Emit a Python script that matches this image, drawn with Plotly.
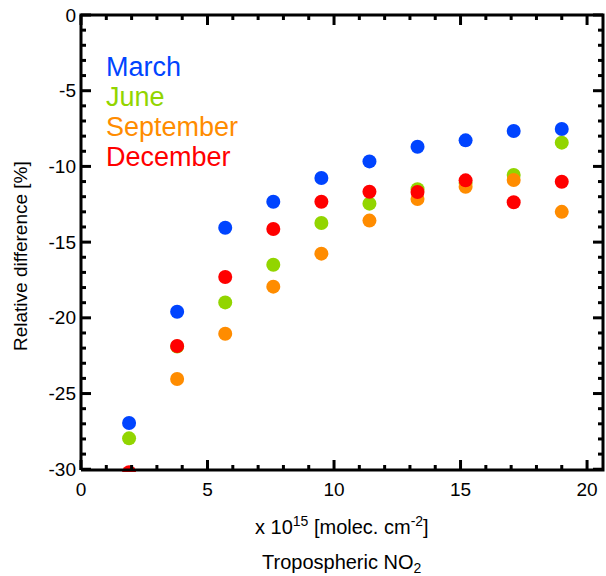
import plotly.graph_objects as go

# Tropospheric NO2 column bins (x 10^15 molec. cm^-2)
no2_bins = [1.9, 3.8, 5.7, 7.6, 9.5, 11.4, 13.3, 15.2, 17.1, 19.0]

# Relative difference [%] per month
march = [-26.95, -19.6, -14.05, -12.33, -10.77, -9.67, -8.7, -8.28, -7.66, -7.53]
june = [-27.96, -21.9, -18.98, -16.49, -13.74, -12.46, -11.5, -11.1, -10.57, -8.43]
september = [-33.0, -24.04, -21.05, -17.94, -15.76, -13.58, -12.15, -11.34, -10.9, -13.0]
december = [-30.2, -21.86, -17.3, -14.13, -12.33, -11.67, -11.69, -10.92, -12.37, -11.01]

series = [
    ("March", march, "#0044ff"),
    ("June", june, "#92d500"),
    ("September", september, "#ff8c00"),
    ("December", december, "#ff0000"),
]

x_ticks = [0, 5, 10, 15, 20]
y_ticks = [0, -5, -10, -15, -20, -25, -30]
x_minor = [v for v in range(0, 21) if v % 5]
y_minor = [-v for v in range(0, 31) if v % 5]

FONT = "Liberation Sans, Arial, Helvetica, sans-serif"

# Frame extent in data units and the pixel size of the box it spans
X0, X1 = 0.0, 20.63
Y0, Y1 = -30.05, 0.0
BOX_W, BOX_H = 522, 455
PX_X = (X1 - X0) / BOX_W
PX_Y = (Y1 - Y0) / BOX_H
PAD = 2  # px of headroom so the frame strokes are not clipped

W, H = 606, 576
M_L, M_R, M_T, M_B = 81 - PAD, 3 - PAD, 15 - PAD, 106 - PAD
PLOT_W, PLOT_H = W - M_L - M_R, H - M_T - M_B


def px(x):
    return (x - M_L) / PLOT_W


def py(y):
    return (H - M_B - y) / PLOT_H


fig = go.Figure()
for name, vals, color in series:
    fig.add_trace(go.Scatter(
        x=no2_bins, y=vals, mode="markers", name=name,
        marker=dict(size=14, color=color, line=dict(width=0)),
        hoverinfo="x+y+name",
    ))

# Inward tick marks on all four sides
tx, ty = [], []
for vals, length in ((x_ticks, 10), (x_minor, 5)):
    for v in vals:
        tx += [v, v, None, v, v, None]
        ty += [Y0, Y0 + length * PX_Y, None, Y1, Y1 - length * PX_Y, None]
for vals, length in ((y_ticks, 10), (y_minor, 5)):
    for v in vals:
        tx += [X0, X0 + length * PX_X, None, X1, X1 - length * PX_X, None]
        ty += [v, v, None, v, v, None]
fig.add_trace(go.Scatter(x=tx, y=ty, mode="lines", line=dict(color="black", width=3),
                         hoverinfo="skip", showlegend=False))

# Closed box frame
fig.add_trace(go.Scatter(x=[X0, X1, X1, X0, X0], y=[Y0, Y0, Y1, Y1, Y0], mode="lines",
                         line=dict(color="black", width=3), hoverinfo="skip",
                         showlegend=False))

# Month labels drawn as coloured text in the upper-left corner
for i, (name, _, color) in enumerate(series):
    fig.add_annotation(
        xref="paper", yref="paper", x=px(104), y=py(67 + 30 * i),
        text=name, showarrow=False, xanchor="left", yanchor="middle",
        font=dict(family=FONT, size=27, color=color),
    )

# Axis titles
fig.add_annotation(
    xref="paper", yref="paper", x=px(20), y=py(256),
    text="Relative difference [%]", textangle=-90, showarrow=False,
    xanchor="center", yanchor="middle",
    font=dict(family=FONT, size=19, color="black"),
)
fig.add_annotation(
    xref="paper", yref="paper", x=px(342), y=py(525),
    text="x 10<sup>15</sup> [molec. cm<sup>-2</sup>]", showarrow=False,
    xanchor="center", yanchor="middle",
    font=dict(family=FONT, size=20, color="black"),
)
fig.add_annotation(
    xref="paper", yref="paper", x=px(342), y=py(563),
    text="Tropospheric NO<sub>2</sub>", showarrow=False,
    xanchor="center", yanchor="middle",
    font=dict(family=FONT, size=20, color="black"),
)

axis_common = dict(
    showline=False, ticks="", showgrid=False, zeroline=False,
    tickfont=dict(family=FONT, size=19, color="black"),
)

fig.update_xaxes(
    range=[X0 - PAD * PX_X, X1 + PAD * PX_X], tickmode="array", tickvals=x_ticks,
    ticktext=[str(v) for v in x_ticks], ticklabelstandoff=4, **axis_common,
)
fig.update_yaxes(
    range=[Y0 - PAD * PX_Y, Y1 + PAD * PX_Y], tickmode="array", tickvals=y_ticks,
    ticktext=[str(v) for v in y_ticks], ticklabelstandoff=2, **axis_common,
)

fig.update_layout(
    width=W, height=H,
    margin=dict(l=M_L, r=M_R, t=M_T, b=M_B),
    plot_bgcolor="white",
    showlegend=False,
)

fig.write_html("out.html")
